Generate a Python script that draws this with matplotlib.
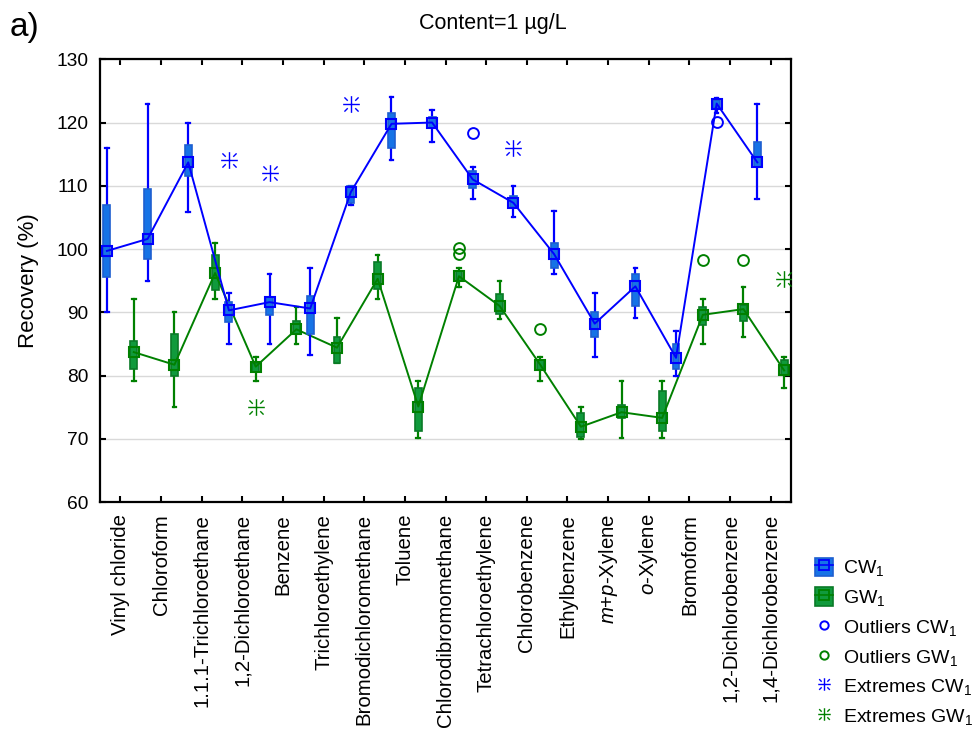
import matplotlib
matplotlib.use('Agg')
import matplotlib.pyplot as plt
from matplotlib.path import Path
from matplotlib.patches import Patch
from matplotlib.lines import Line2D
import numpy as np

plt.rcParams['font.family'] = ['Liberation Sans', 'DejaVu Sans']
plt.rcParams['mathtext.fontset'] = 'custom'
plt.rcParams['mathtext.rm'] = 'Liberation Sans'
plt.rcParams['mathtext.it'] = 'Liberation Sans:italic'

categories = ["Vinyl chloride", "Chloroform", "1.1.1-Trichloroethane", "1,2-Dichloroethane",
              "Benzene", "Trichloroethylene", "Bromodichloromethane", "Toluene",
              "Chlorodibromomethane", "Tetrachloroethylene", "Chlorobenzene", "Ethylbenzene",
              r"$\it{m}$+$\it{p}$-Xylene", r"$\it{o}$-Xylene", "Bromoform",
              "1,2-Dichlorobenzene", "1,4-Dichlorobenzene"]

# CW1 statistics
cw_med = [99.7, 101.6, 113.7, 90.3, 91.6, 90.6, 109.0, 119.8, 120.0, 111.0, 107.3, 99.2, 88.2, 94.1, 82.8, 123.0, 113.7]
cw_q1 = [95.5, 98.5, 111.5, 88.5, 89.5, 86.6, 107.2, 116.0, 119.1, 109.6, 106.7, 97.0, 86.1, 91.0, 81.0, 122.3, 113.0]
cw_q3 = [107.0, 109.5, 116.5, 91.6, 92.4, 92.5, 109.9, 121.5, 120.9, 112.4, 108.4, 101.0, 90.0, 96.0, 85.0, 123.6, 117.0]
cw_lo = [90.0, 95.0, 105.9, 85.0, 85.0, 83.2, 107.0, 114.0, 117.0, 107.9, 105.0, 96.0, 83.0, 89.1, 80.0, 121.5, 107.9]
cw_hi = [116.0, 123.0, 120.0, 93.0, 96.0, 97.0, 110.0, 124.0, 122.0, 112.9, 110.0, 106.0, 93.0, 97.0, 87.1, 123.9, 123.0]

# GW1 statistics
gw_med = [83.7, 81.7, 96.2, 81.4, 87.3, 84.4, 95.3, 75.1, 95.7, 91.0, 81.7, 71.9, 74.2, 73.3, 89.6, 90.5, 80.8]
gw_q1 = [81.1, 80.0, 93.6, 80.5, 86.5, 82.0, 93.7, 71.2, 94.9, 89.8, 80.9, 70.2, 73.3, 71.2, 88.0, 88.6, 80.1]
gw_q3 = [85.5, 86.5, 99.0, 82.0, 88.6, 86.1, 97.9, 78.0, 96.5, 92.9, 82.5, 74.1, 75.4, 77.5, 90.9, 91.2, 82.5]
gw_lo = [79.1, 75.0, 92.1, 79.1, 85.0, 82.0, 92.1, 70.1, 94.0, 89.0, 79.1, 70.0, 70.1, 70.1, 85.0, 86.1, 78.0]
gw_hi = [92.1, 90.0, 101.0, 83.0, 90.9, 89.1, 99.0, 79.1, 97.0, 95.0, 83.0, 75.1, 79.1, 79.1, 92.1, 94.0, 83.0]

# Outliers and extremes (category index, value)
out_cw_cat = [9, 15]
out_cw_val = [118.3, 120.1]
out_gw_cat = [8, 8, 10, 14, 15]
out_gw_val = [100.2, 99.2, 87.3, 98.3, 98.3]
ext_cw_cat = [3, 4, 6, 10]
ext_cw_val = [114.0, 112.1, 122.9, 116.0]
ext_gw_cat = [3, 16]
ext_gw_val = [75.0, 95.2]

cw_line = '#0000FF'
cw_fill = '#1673E6'
cw_edge = '#1E5FD0'
gw_line = '#008000'
gw_fill = '#109A3C'
gw_edge = '#0A7A28'

ext_marker = Path(
    [(0, -1), (0, 1), (-1, 0), (1, 0),
     (0.45, 0.45), (0.85, 0.85), (-0.45, 0.45), (-0.85, 0.85),
     (0.45, -0.45), (0.85, -0.85), (-0.45, -0.45), (-0.85, -0.85)],
    [Path.MOVETO, Path.LINETO] * 6)

fig = plt.figure(figsize=(9.76, 7.32), dpi=100)
ax = fig.add_axes([0.1025, 0.3142, 0.708, 0.6048])

x = np.arange(len(categories))
off = 0.33


def draw(med, q1, q3, lo, hi, pos, line, fill, edge, z):
    stats = [dict(med=m, q1=a, q3=b, whislo=l, whishi=h, fliers=[])
             for m, a, b, l, h in zip(med, q1, q3, lo, hi)]
    ax.bxp(stats, positions=pos, widths=0.17, patch_artist=True, showfliers=False,
           manage_ticks=False, capwidths=0.09,
           boxprops=dict(facecolor=fill, edgecolor=edge, lw=1.2, zorder=z + 0.2),
           whiskerprops=dict(color=line, lw=1.6, zorder=z + 0.1),
           capprops=dict(color=line, lw=1.6, zorder=z + 0.1),
           medianprops=dict(lw=0))
    ax.plot(pos, med, color=line, lw=1.4, marker='s', ms=7.8, mfc='none',
            mec=line, mew=1.5, zorder=z + 0.3)


draw(gw_med, gw_q1, gw_q3, gw_lo, gw_hi, x + off, gw_line, gw_fill, gw_edge, 2)
draw(cw_med, cw_q1, cw_q3, cw_lo, cw_hi, x - off, cw_line, cw_fill, cw_edge, 3)

ax.plot(np.array(out_cw_cat) - off, out_cw_val, ls='none', marker='o', ms=7.8,
        mfc='none', mec=cw_line, mew=1.4, zorder=5)
ax.plot(np.array(out_gw_cat) + off, out_gw_val, ls='none', marker='o', ms=7.8,
        mfc='none', mec=gw_line, mew=1.4, zorder=5)
ax.plot(np.array(ext_cw_cat) - off, ext_cw_val, ls='none', marker=ext_marker, ms=12,
        mfc='none', mec=cw_line, mew=1.0, zorder=5)
ax.plot(np.array(ext_gw_cat) + off, ext_gw_val, ls='none', marker=ext_marker, ms=12,
        mfc='none', mec=gw_line, mew=1.0, zorder=5)

ax.set_xlim(-0.5, len(categories) - 0.5)
ax.set_ylim(60, 130)
ax.set_yticks(np.arange(60, 131, 10))
ax.set_xticks(x)
ax.set_xticklabels(categories, rotation=90, fontsize=14.7)
ax.tick_params(axis='y', labelsize=13.8, pad=8.5)
ax.tick_params(axis='x', pad=8.5)
ax.tick_params(direction='in', top=True, right=True, length=4, width=1.5)
ax.yaxis.grid(True, color='#d9d9d9', lw=1)
ax.set_axisbelow(True)
for s in ax.spines.values():
    s.set_linewidth(1.6)
ax.set_ylabel('Recovery (%)', fontsize=16)
ax.yaxis.set_label_coords(-0.088, 0.5)

fig.text(0.505, 0.968, r'Content=1 µg/L', ha='center', va='center', fontsize=15.5)
fig.text(0.010, 0.962, 'a)', ha='left', va='center', fontsize=24)

h_cw = (Patch(facecolor=cw_fill, edgecolor=cw_edge, lw=1.2),
        Line2D([], [], color=cw_line, lw=1.2, marker='s', ms=7, mfc='none', mec=cw_line, mew=1.3))
h_gw = (Patch(facecolor=gw_fill, edgecolor=gw_edge, lw=1.2),
        Line2D([], [], color=gw_line, lw=1.2, marker='s', ms=7, mfc='none', mec=gw_line, mew=1.3))
h_ocw = Line2D([], [], ls='none', marker='o', ms=6, mfc='none', mec=cw_line, mew=1.4)
h_ogw = Line2D([], [], ls='none', marker='o', ms=6, mfc='none', mec=gw_line, mew=1.4)
h_ecw = Line2D([], [], ls='none', marker=ext_marker, ms=9, mfc='none', mec=cw_line, mew=1.0)
h_egw = Line2D([], [], ls='none', marker=ext_marker, ms=9, mfc='none', mec=gw_line, mew=1.0)
fig.legend([h_cw, h_gw, h_ocw, h_ogw, h_ecw, h_egw],
           [r'CW$_1$', r'GW$_1$', r'Outliers CW$_1$', r'Outliers GW$_1$',
            r'Extremes CW$_1$', r'Extremes GW$_1$'],
           loc='upper left', bbox_to_anchor=(0.827, 0.249), frameon=False,
           fontsize=14, handlelength=0.95, handleheight=1.1, handletextpad=0.5,
           labelspacing=0.45, borderaxespad=0)

fig.savefig('out.png', dpi=100)
